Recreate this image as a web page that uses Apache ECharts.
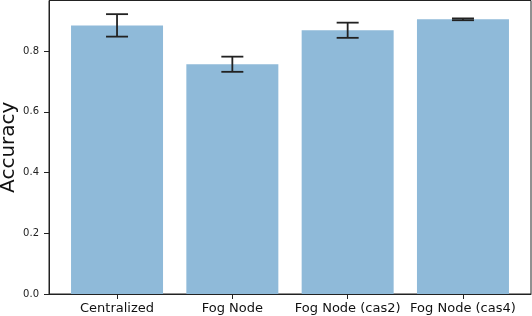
<!DOCTYPE html>
<html>
<head>
<meta charset="utf-8">
<script src="https://cdn.jsdelivr.net/npm/echarts@6/dist/echarts.min.js"></script>
<style>html,body{margin:0;padding:0;background:#fff;}#main{width:532px;height:316px;}</style>
</head>
<body>
<div id="main"></div>
<script>
const categories = ['Centralized', 'Fog Node', 'Fog Node (cas2)', 'Fog Node (cas4)'];
const accuracy = [0.885, 0.757, 0.869, 0.905];
const errors = [0.037, 0.025, 0.025, 0.003];
const yTicks = [0, 0.2, 0.4, 0.6, 0.8];
const xTicks = [0, 1, 2, 3];

const barData = accuracy.map((v, i) => [i, v]);
const errData = accuracy.map((v, i) => [i, v - errors[i], v + errors[i]]);

const chart = echarts.init(document.getElementById('main'), null, {renderer: 'canvas'});
chart.setOption({
  animation: false,
  backgroundColor: '#fff',
  textStyle: {fontFamily: 'DejaVu Sans'},
  grid: {left: 49, right: 1, top: 0.5, bottom: 22, show: true, borderColor: '#222', borderWidth: 1, containLabel: false, outerBoundsMode: 'none'},
  xAxis: {
    type: 'value', min: -0.59, max: 3.59,
    axisLine: {show: true, onZero: false, lineStyle: {color: '#222'}},
    axisTick: {show: true, length: 5, lineStyle: {color: '#222'}, customValues: xTicks},
    axisLabel: {customValues: xTicks, formatter: v => categories[Math.round(v)], fontSize: 13, color: '#111', margin: 8, fontFamily: 'DejaVu Sans'},
    splitLine: {show: false}
  },
  yAxis: {
    type: 'value', min: 0, max: 0.967,
    name: 'Accuracy', nameLocation: 'middle', nameGap: 30, nameMoveOverlap: false,
    nameTextStyle: {fontSize: 20, color: '#111', fontFamily: 'DejaVu Sans'},
    axisLine: {show: true, onZero: false, lineStyle: {color: '#222'}},
    axisTick: {show: true, length: 5, lineStyle: {color: '#222'}, customValues: yTicks},
    axisLabel: {customValues: yTicks, formatter: v => v.toFixed(1), fontSize: 10, color: '#222', margin: 10, fontFamily: 'DejaVu Sans'},
    splitLine: {show: false}
  },
  series: [
    {
      type: 'bar', data: barData, barWidth: 92,
      itemStyle: {color: '#8fbad9'}
    },
    {
      type: 'custom', data: errData, encode: {x: 0, y: [1, 2]}, z: 5,
      renderItem: function (params, api) {
        const x = api.value(0);
        const lo = api.coord([x, api.value(1)]);
        const hi = api.coord([x, api.value(2)]);
        const cw = 11;
        const st = {stroke: '#222', lineWidth: 1.8};
        return {
          type: 'group',
          children: [
            {type: 'line', shape: {x1: hi[0], y1: hi[1], x2: lo[0], y2: lo[1]}, style: st},
            {type: 'line', shape: {x1: hi[0] - cw, y1: hi[1], x2: hi[0] + cw, y2: hi[1]}, style: st},
            {type: 'line', shape: {x1: lo[0] - cw, y1: lo[1], x2: lo[0] + cw, y2: lo[1]}, style: st}
          ]
        };
      }
    }
  ]
});
</script>
</body>
</html>
